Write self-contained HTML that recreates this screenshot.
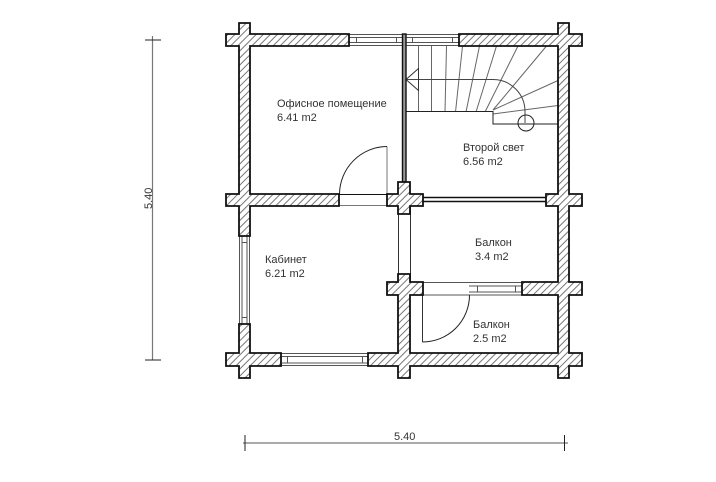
<!DOCTYPE html>
<html><head><meta charset="utf-8"><style>
html,body{margin:0;padding:0;background:#fff;width:716px;height:482px;overflow:hidden}
svg{display:block}
text{font-family:"Liberation Sans",sans-serif;font-size:11px;fill:#333}
</style></head><body>
<svg width="716" height="482" viewBox="0 0 716 482" xmlns="http://www.w3.org/2000/svg">
<defs><pattern id="h" width="5" height="5" patternUnits="userSpaceOnUse" patternTransform="rotate(45)"><rect width="5" height="5" fill="#fff"/><rect width="1" height="5" fill="#777"/></pattern></defs>
<rect width="716" height="482" fill="#fff"/>

<!-- stairs -->
<g fill="none" stroke="#666" stroke-width="1">
<path d="M418.5,46V112M431.5,46V112M446.5,46L445,112M462.5,46L455.5,112M479.5,46L466,112M496.5,46L476,112M518,46L485,112M546.5,46L493,110M558,80.5L493,110M558,105.5L493,114"/>
<path d="M406,79.5H493A32,32 0 0 1 525,111.5V123" stroke="#444"/>
<path d="M406,79.5L418.5,68.5V90.5Z" stroke="#333"/>
</g>
<path d="M406,111.5H493V124H558" fill="none" stroke="#222"/>
<circle cx="526" cy="123" r="8" fill="none" stroke="#222"/>

<!-- windows -->
<g fill="none" stroke="#555" stroke-width="1">
<path d="M349,34.5H459M349,37.5H459M349,42.5H459M349,45.5H459M356.5,37V43M396.5,37V43M412.5,37V43M452.5,37V43"/>
<path d="M239.5,236V324M242,236V324M247,236V324M249.5,236V324M242,242.5H247M242,317.5H247"/>
<path d="M281,353.5H368M281,356.5H368M281,363H368M281,365.5H368M287.5,357V363M362.5,357V363"/>
<path d="M423,282.5H522M423,295H522M469,286H522M469,292H522M477.5,286V292M515.5,286V292"/>
</g>

<!-- openings -->
<path d="M339,194.5H387" stroke="#111" fill="none"/>
<path d="M339,205.5H398" stroke="#777" fill="none"/>
<path d="M398.5,214V274M410.5,206V282" stroke="#333" fill="none"/>
<path d="M423,197.5H546M423,201.5H546" stroke="#111" stroke-width="1.5" fill="none"/>

<!-- thin wall -->
<rect x="402.5" y="34" width="3.5" height="148" fill="#999" stroke="#111" stroke-width="1.4"/>

<!-- doors -->
<path d="M387,194V146.5" stroke="#777" fill="none"/>
<path d="M387,146.5A48,48 0 0 0 339.5,194" stroke="#222" fill="none"/>
<path d="M422.5,295V342" stroke="#333" fill="none"/>
<path d="M422.5,342A47,47 0 0 0 469.5,295" stroke="#222" fill="none"/>

<!-- walls -->
<g fill="url(#h)" stroke="#111" stroke-width="1.8">
<path d="M239,23H250V34H349V46H250V194H339V206H250V236H239V206H226V194H239V46H226V34H239Z"/>
<path d="M459,34H558V23H569V34H582V46H569V194H582V206H569V282H582V295H569V353H582V366H569V378H558V366H410V378H398V366H368V353H398V295H387V282H398V274H410V282H423V295H410V353H558V295H522V282H558V206H546V194H558V46H459Z"/>
<path d="M398,182H410V194H423V206H410V214H398V206H387V194H398Z"/>
<path d="M239,324H250V353H281V366H250V378H239V366H226V353H239Z"/>
</g>

<!-- dimensions -->
<path d="M152.5,36V360M243,443H568" stroke="#777" stroke-width="1.2" fill="none"/>
<path d="M145,40H161M145,360H161M245,435V451M564.5,435V451" stroke="#222" fill="none"/>

<!-- labels -->
<text x="277" y="107">Офисное помещение</text>
<text x="277" y="121">6.41 m2</text>
<text x="463" y="151">Второй свет</text>
<text x="463" y="165">6.56 m2</text>
<text x="265" y="263">Кабинет</text>
<text x="265" y="277">6.21 m2</text>
<text x="475" y="246">Балкон</text>
<text x="475" y="260">3.4 m2</text>
<text x="473" y="328">Балкон</text>
<text x="473" y="342">2.5 m2</text>
<text x="394" y="440">5.40</text>
<text transform="translate(152,209) rotate(-90)">5.40</text>
</svg>
</body></html>
